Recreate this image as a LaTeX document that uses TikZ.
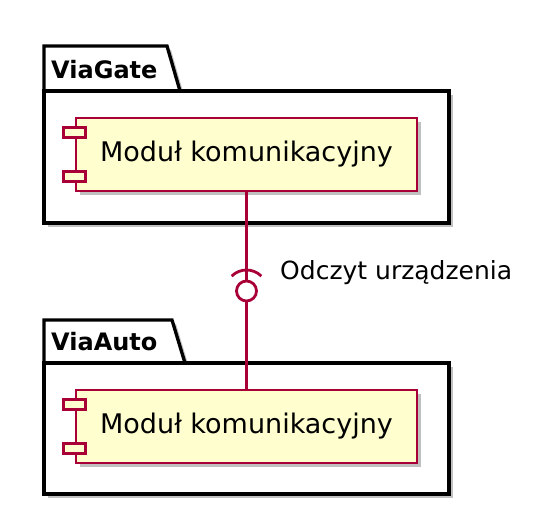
\documentclass[tikz,border=0pt]{standalone}
\usepackage{fontspec}
\setmainfont{DejaVu Sans}
\usepackage{tikz}
\usetikzlibrary{shadows}
\definecolor{umlred}{RGB}{168,0,54}
\definecolor{umlfill}{RGB}{254,254,206}
\newcommand{\bigtext}{\fontsize{25}{30}\selectfont}
\newcommand{\modtext}{\fontsize{27}{32}\selectfont}
\tikzset{
  shade4/.style={drop shadow={shadow xshift=4pt,shadow yshift=-4pt,opacity=.35,fill=black!70}},
  pkg/.style={draw=black,fill=white,line width=3.3pt,line join=miter,shade4},
  pkgname/.style={anchor=base west,inner sep=0pt,font=\fontsize{24}{29}\selectfont\bfseries},
  modbox/.style={draw=umlred,fill=umlfill,line width=2.7pt,minimum width=341pt,minimum height=73pt,inner sep=0pt,font=\modtext,shade4},
  port/.style={draw=umlred,fill=umlfill,line width=2.7pt},
  wire/.style={draw=umlred,line width=2.1pt},
}
\begin{document}
\begin{tikzpicture}[x=1pt,y=1pt]
 \useasboundingbox (0,0) rectangle (534,-516);
 % ViaGate
 \draw[pkg] (44,-91)--(44,-46)--(167,-46)--(180,-91)--cycle;
 \draw[pkg] (44,-91) rectangle (449,-223);
 \node[pkgname] (gatename) at (51,-78){ViaGate};
 \node[modbox] (gatemod) at (246.5,-154.5){Moduł komunikacyjny};
 \draw[port] ([shift={(-11,-11)}]gatemod.north west) rectangle ++(22,-10);
 \draw[port] ([shift={(-11,11)}]gatemod.south west) rectangle ++(22,10);
 % ViaAuto
 \draw[pkg] (44,-363)--(44,-320)--(172,-320)--(185,-363)--cycle;
 \draw[pkg] (44,-363) rectangle (449,-494);
 \node[pkgname] (autoname) at (51,-350){ViaAuto};
 \node[modbox] (automod) at (246.5,-426.5){Moduł komunikacyjny};
 \draw[port] ([shift={(-11,-11)}]automod.north west) rectangle ++(22,-10);
 \draw[port] ([shift={(-11,11)}]automod.south west) rectangle ++(22,10);
 % interface
 \node[circle,draw=umlred,line width=2.8pt,minimum size=20pt,inner sep=0pt] (iface) at (246.5,-291){};
 \draw[wire] (gatemod.south)--(iface.north);
 \draw[wire] (iface.south)--(automod.north);
 \draw[umlred,line width=2.8pt] (iface.center) ++(45:21) arc (45:135:21);
 \node[anchor=base west,inner sep=0pt,font=\bigtext] (ifacelabel) at (280,-279){Odczyt urządzenia};
\end{tikzpicture}
\end{document}
